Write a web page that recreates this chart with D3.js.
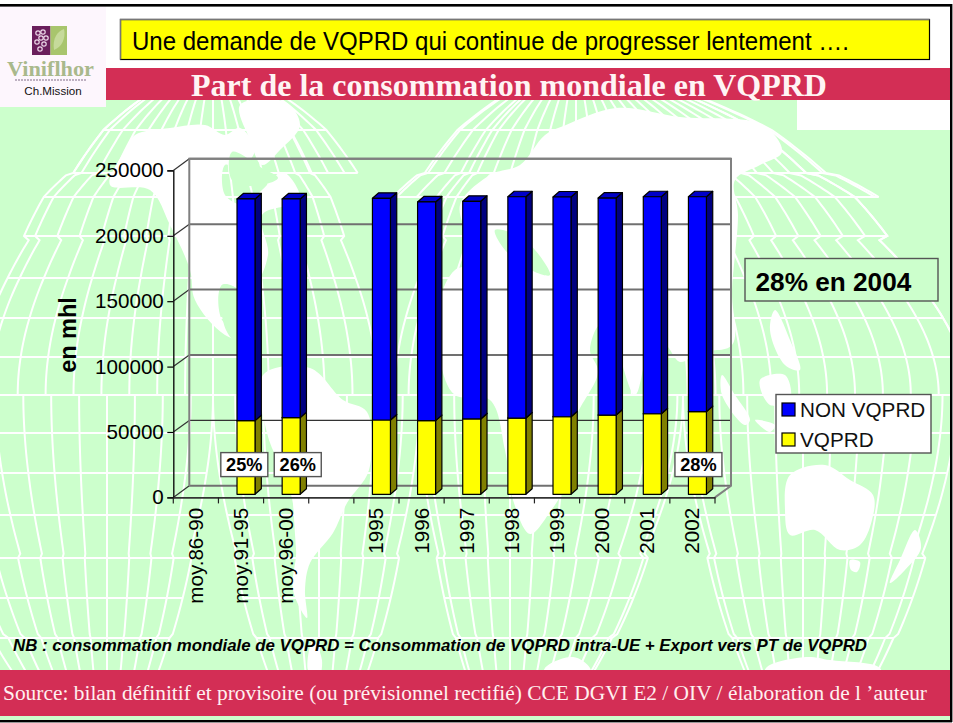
<!DOCTYPE html>
<html><head><meta charset="utf-8">
<style>html,body{margin:0;padding:0;background:#fff}svg{display:block}text{font-family:"Liberation Sans",Arial,sans-serif}</style>
<script src="https://cdn.jsdelivr.net/npm/d3@7"></script></head><body>
<svg id="c" width="953" height="723"></svg>
<script>
// ---------- chart data ----------
const categories = ["moy.86-90","moy.91-95","moy.96-00","","1995","1996","1997","1998","1999","2000","2001","2002"];
const vqprd    = [null,56300,58600,null,56800,56300,57600,58300,59300,60600,61600,63200];
const nonVqprd = [null,169500,167200,null,169500,167200,166400,169200,168000,165900,165900,164300];
const shareLabels = ["","25%","26%","","","","","","","","","28%"];
const yTicks = [0,50000,100000,150000,200000,250000];
const seriesNames = ["NON VQPRD","VQPRD"];

// ---------- texts ----------
const headline = "Une demande de VQPRD qui continue de progresser lentement ….";
const title = "Part de la consommation mondiale en VQPRD";
const note = "NB : consommation mondiale de VQPRD = Consommation de VQPRD intra-UE + Export vers PT de VQPRD";
const source = "Source: bilan définitif et provisoire (ou prévisionnel rectifié) CCE DGVI E2 / OIV / élaboration de l ’auteur";

const svg = d3.select("#c");
const GREEN="#CCFFCC", RED="#D32E55";
const rect=(g,x,y,w,h,fill,stroke,sw)=>g.append("rect").attr("x",x).attr("y",y).attr("width",w).attr("height",h).attr("fill",fill).attr("stroke",stroke||"none").attr("stroke-width",sw||0);

// ---------- page background ----------
rect(svg,0,0,953,723,"#fff");
rect(svg,0,100,951,621,GREEN);

// ---------- world map backdrop (interrupted homolosine style) ----------
const map = svg.append("g");
const K=2.79;
const latY = d3.scaleLinear()
  .domain([-90,-70,-60,-50,-40,-30,-20,-10,0,10,20,30,40,50,60,70,80,90])
  .range([760,678,638,598,558,515,473,433,395,357,318,278,236,197,173,130,98,60]);
function widen(lat){
  const a=Math.abs(lat)*Math.PI/180;
  if(Math.abs(lat)<40) return Math.cos(a);
  let t=a; for(let i=0;i<30;i++){t-= (2*t+Math.sin(2*t)-Math.PI*Math.sin(a))/(2+2*Math.cos(2*t)+1e-6);}
  return 0.99*Math.cos(t)*(Math.abs(lat)>=60?0.92:0.95);
}
const lobes=[
 {cx:213,lo:-85,hi:59,hiTop:88,loTop:-85,topFrom:60,s:1},
 {cx:576,lo:-65,hi:140,hiTop:152,loTop:-92,topFrom:50,s:1},
 {cx:107,lo:-100,hi:38,s:-1},
 {cx:319,lo:-38,hi:36,s:-1},
 {cx:510,lo:-33,hi:62,s:-1},
 {cx:803,lo:-43,hi:55,s:-1}
];
const ln=d3.line().x(d=>d[0]).y(d=>d[1]);
const grid=map.append("g").attr("fill","none").attr("stroke","#fff").attr("stroke-width",2);
lobes.forEach(L=>{
  const lats=L.s>0?d3.range(0,86,1):d3.range(0,-72,-1);
  const P=(d,lat)=>[L.cx+d*K*widen(lat),latY(lat)];
  (L.s>0?[0,10,20,30,40,50,60,70]:[-10,-20,-30,-40,-50,-60,-70]).forEach(lat=>{
    const top=L.s>0&&lat>=L.topFrom;
    const a=top?L.loTop:L.lo, b=top?L.hiTop:L.hi;
    grid.append("path").attr("d",ln([P(a,lat),P(b,lat)]));
  });
  for(let d=Math.ceil(L.lo/10)*10;d<=L.hi;d+=10){
    grid.append("path").attr("d",ln(lats.map(l=>P(d,l))));
  }
  grid.append("path").attr("d",ln(lats.map(l=>P(L.lo,l))));
  grid.append("path").attr("d",ln(lats.map(l=>P(L.hi,l))));
  if(L.s>0){
    const up=d3.range(L.topFrom,86,1);
    [L.hiTop,L.loTop].forEach(e=>{
      grid.append("path").attr("d",ln(up.map(l=>P(e,l))));
      for(let d=10*Math.ceil((L.hi+1)/10);d<e;d+=10)grid.append("path").attr("d",ln(up.map(l=>P(d,l))));
    });
    for(let d=-10*Math.ceil((-L.lo+1)/10);d>L.loTop;d-=10)grid.append("path").attr("d",ln(up.map(l=>P(d,l))));
  }
});
const land=[
 [[125,150],[135,135],[170,128],[205,125],[225,135],[240,128],[255,150],[240,168],[225,165],[225,195],[245,205],[262,190],[283,172],[300,200],[262,215],[268,255],[250,290],[222,285],[222,320],[245,335],[260,345],[225,335],[195,300],[190,270],[170,225],[150,190],[110,185]],
 [[240,105],[285,102],[300,125],[280,150],[262,165],[250,140]],
 [[263,375],[310,368],[343,400],[367,412],[369,470],[347,503],[333,533],[310,563],[305,590],[307,618],[293,590],[297,545],[290,490],[267,433]],
 [[440,300],[455,270],[480,262],[470,240],[460,205],[490,175],[520,165],[545,135],[566,125],[616,108],[680,117],[763,125],[782,152],[760,165],[735,180],[738,215],[732,290],[732,345],[700,352],[680,362],[665,345],[650,350],[635,395],[615,345],[600,325],[590,350],[598,372],[575,420],[568,480],[550,512],[530,534],[513,500],[505,450],[490,400],[455,395],[440,360]],
 [[790,475],[825,465],[850,480],[873,495],[872,520],[860,545],[840,550],[815,530],[790,535],[785,510]],
 [[850,560],[860,562],[857,572],[851,570]],
 [[915,530],[921,548],[905,570],[890,583],[900,560]],
 [[722,375],[735,395],[750,420],[745,425],[722,395]],
 [[760,380],[785,375],[790,400],[770,405]],
 [[755,420],[775,425],[770,432]],
 [[775,310],[790,340],[800,370],[785,365],[770,330]],
 [[766,668],[806,657],[830,660],[880,668],[880,680],[766,680]],
 [[545,668],[573,657],[590,668],[590,680],[545,680]],
 [[308,670],[313,640],[322,660],[318,680]]
];
const seas=[
 [[495,230],[525,240],[550,275],[535,272],[505,250]],
 [[232,152],[262,168],[278,178],[255,186],[232,180]],
 [[222,285],[238,290],[240,345],[226,330]]
];
const blob=d3.line().curve(d3.curveCatmullRomClosed.alpha(.5));
map.selectAll("path.l").data(land).join("path").attr("class","l").attr("fill","#fff").attr("d",blob);
map.selectAll("path.s").data(seas).join("path").attr("class","s").attr("fill",GREEN).attr("d",blob);

// ---------- white patches and header ----------
rect(svg,0,0,953,100,"#fff");
rect(svg,0,6,106,101,"#FDF6FD");
rect(svg,797,100,154,30,"#fff");
rect(svg,106,68,845,32,RED);
rect(svg,120.5,19.5,809,40,"#FFFF00","#000",1.2);
svg.append("path").attr("d","M120.5 59.5V19.5H929.5").attr("fill","none").attr("stroke","#777").attr("stroke-width",1.4);
svg.append("text").attr("x",132).attr("y",49.5).attr("font-size",25).attr("textLength",717).attr("lengthAdjust","spacingAndGlyphs").text(headline);
svg.append("text").attr("x",191).attr("y",96).attr("font-size",31).attr("font-weight","bold").attr("fill","#FFF4F4").style("font-family","Liberation Serif").attr("textLength",636).attr("lengthAdjust","spacingAndGlyphs").text(title);

// logo
rect(svg,32,26,18.5,29,"#6A1F5C");
rect(svg,50.5,26,16.5,29,"#A8C56D");
svg.append("path").attr("d","M54 50C52 38 58 31 64 29C66 38 62 47 54 50Z").attr("fill","#C6DA9B");
[[38,33],[43,32],[41,38],[37,42],[44,44],[40,49],[46,38]].forEach(p=>svg.append("circle").attr("cx",p[0]).attr("cy",p[1]).attr("r",2.2).attr("fill","none").attr("stroke","#EBD7E8").attr("stroke-width",1.2));
svg.append("text").attr("x",7).attr("y",76).attr("font-size",21).attr("font-weight","bold").attr("fill","#A9B98C").style("font-family","Liberation Serif").attr("textLength",87).attr("lengthAdjust","spacingAndGlyphs").text("Viniflhor");
svg.append("line").attr("x1",15).attr("x2",87).attr("y1",80).attr("y2",80).attr("stroke","#A99AAE").attr("stroke-width",1.6).attr("stroke-dasharray","2 1");
svg.append("text").attr("x",53).attr("y",95).attr("text-anchor","middle").attr("font-size",11.6).attr("fill","#111").text("Ch.Mission");

// ---------- chart ----------
const DX=16, DY=-11.6;
const y=d3.scaleLinear().domain([0,250000]).range([497.4,170.4]);
const x=d3.scaleBand().domain(categories.map((c,i)=>i)).range([173.3,715]);
const BW=18, BDX=6.3, BDY=-5.5, BOX=5, BOY=-3.1;
const chart=svg.append("g");

chart.selectAll("line.g").data(yTicks).join("line").attr("class","g")
  .attr("x1",173.3+DX).attr("x2",715+DX).attr("y1",d=>y(d)+DY).attr("y2",d=>y(d)+DY)
  .attr("stroke",d=>d===50000?"#333":"#707070").attr("stroke-width",d=>d===50000?1.4:2);
chart.selectAll("line.d").data(yTicks).join("line").attr("class","d")
  .attr("x1",173.3).attr("x2",173.3+DX).attr("y1",d=>y(d)).attr("y2",d=>y(d)+DY)
  .attr("stroke","#333").attr("stroke-width",1.2);
chart.append("path").attr("fill","none").attr("stroke","#808080").attr("stroke-width",2)
  .attr("d",`M${173.3+DX} ${y(0)+DY}V${y(250000)+DY}H${715+DX}V${y(0)+DY}L715 ${y(0)}`);

const rows=categories.map((c,i)=>({i,VQPRD:vqprd[i]||0,NON:nonVqprd[i]||0}));
const stacked=d3.stack().keys(["VQPRD","NON"])(rows);
const colors={VQPRD:{f:"#FFFF00",s:"#808000",t:"#C8C800"},NON:{f:"#0000FF",s:"#000080",t:"#0000C8"}};
stacked.forEach(layer=>{
  const c=colors[layer.key];
  const g=chart.append("g").attr("stroke","#000").attr("stroke-width",1.2).attr("stroke-linejoin","round");
  layer.filter(d=>d.data.NON>0).forEach(d=>{
    const x0=x(d.data.i)+(x.bandwidth()-BW)/2+BOX, x1=x0+BW;
    const y0=y(d[0])+BOY, y1=y(d[1])+BOY;
    g.append("path").attr("fill",c.s).attr("d",`M${x1} ${y0}L${x1+BDX} ${y0+BDY}V${y1+BDY}L${x1} ${y1}Z`);
    g.append("path").attr("fill",c.t).attr("d",`M${x0} ${y1}L${x0+BDX} ${y1+BDY}H${x1+BDX}L${x1} ${y1}Z`);
    g.append("rect").attr("x",x0).attr("y",y1).attr("width",BW).attr("height",y0-y1).attr("fill",c.f);
  });
});

const yAxis=chart.append("g").attr("transform","translate(173.3,0)").call(d3.axisLeft(y).tickValues(yTicks).tickFormat(d=>String(d)).tickSize(6).tickPadding(3.5));
yAxis.selectAll("text").attr("font-size",20.6).attr("fill","#000").style("font-family","Liberation Sans");
yAxis.selectAll("line").attr("stroke","#000").attr("stroke-width",1.2);
yAxis.select(".domain").attr("stroke","#111").attr("stroke-width",1.4);

const xAxis=chart.append("g").attr("transform",`translate(0,${y(0)})`).call(d3.axisBottom(x).tickFormat(i=>categories[i]).tickSize(0));
xAxis.select(".domain").attr("stroke","#333").attr("stroke-width",1.6);
xAxis.selectAll("text").attr("font-size",20.6).attr("fill","#000").style("font-family","Liberation Sans")
  .attr("text-anchor","end").attr("dominant-baseline","middle").attr("dy",0).attr("transform","translate(1.5,10.5) rotate(-90)").attr("x",0).attr("y",0);
xAxis.selectAll("line.t").data(d3.range(categories.length+1)).join("line").attr("class","t")
  .attr("x1",i=>173.3+i*x.step()).attr("x2",i=>173.3+i*x.step()).attr("y1",0).attr("y2",6).attr("stroke","#222").attr("stroke-width",1.2);

svg.append("text").attr("transform","translate(76,335) rotate(-90)").attr("text-anchor","middle").attr("font-size",23.5).attr("font-weight","bold").text("en mhl");

const shareShift={"25%":-1.7,"26%":6.6,"28%":1};
const sl=chart.selectAll("g.sl").data(shareLabels.map((t,i)=>({t,i})).filter(d=>d.t)).join("g").attr("class","sl")
  .attr("transform",d=>`translate(${x(d.i)+x.bandwidth()/2+BOX+shareShift[d.t]},0)`);
sl.append("rect").attr("x",-23.5).attr("y",452.6).attr("width",47).attr("height",24).attr("fill","#fff").attr("stroke","#555").attr("stroke-width",1.4);
sl.append("text").attr("y",471).attr("text-anchor","middle").attr("font-size",18.2).attr("font-weight","bold").text(d=>d.t);

rect(svg,745,258.5,193,42.5,GREEN,"#555",1.4);
svg.append("text").attr("x",755.5).attr("y",291).attr("font-size",26.2).attr("font-weight","bold").text("28% en 2004");

rect(svg,776,394.5,155,58.5,"#fff","#555",1.4);
const legendFill=["#0000FF","#FFFF00"];
const leg=svg.selectAll("g.lg").data(seriesNames).join("g").attr("class","lg").attr("transform",(d,i)=>`translate(782,${403+i*30})`);
leg.append("rect").attr("width",13).attr("height",13).attr("fill",(d,i)=>legendFill[i]).attr("stroke","#000").attr("stroke-width",1.2);
leg.append("text").attr("x",18).attr("y",13.6).attr("font-size",20.7).attr("fill","#111").text(d=>d);

svg.append("text").attr("x",13).attr("y",651).attr("font-size",16.4).attr("font-weight","bold").attr("font-style","italic").attr("textLength",854).attr("lengthAdjust","spacingAndGlyphs").text(note);
rect(svg,0,670,951,46,RED);
svg.append("text").attr("x",3).attr("y",700).attr("font-size",21.6).attr("fill","#FFF0F0").style("font-family","Liberation Serif").attr("textLength",924).attr("lengthAdjust","spacingAndGlyphs").text(source);

rect(svg,0,4,952,2.6,"#000");
rect(svg,950,4,2.4,718,"#000");
rect(svg,0,720,952,2.4,"#000");
</script></body></html>
